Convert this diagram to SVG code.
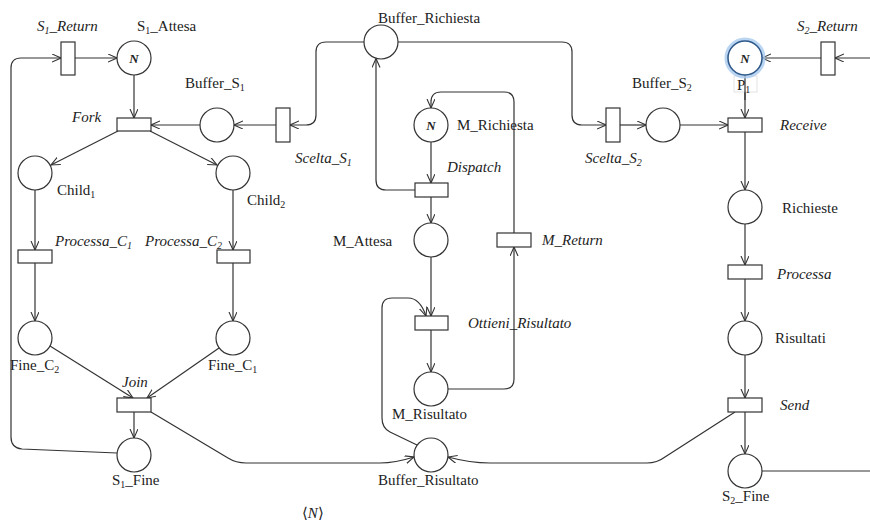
<svg xmlns="http://www.w3.org/2000/svg" width="870" height="523" viewBox="0 0 870 523">
<style>
.pl{fill:#fff;stroke:#333;stroke-width:1.2}
.tr{fill:#fff;stroke:#333;stroke-width:1.2}
.e{fill:none;stroke:#333;stroke-width:1.2;marker-end:url(#a)}
.n{fill:none;stroke:#333;stroke-width:1.2}
text{font-family:"Liberation Serif","DejaVu Serif",serif;font-size:15px;fill:#222}
.i{font-style:italic}
.tk{font-style:italic;font-weight:bold;font-size:13px;text-anchor:middle}
.s{font-size:10px}
</style>
<defs>
<marker id="a" markerWidth="10" markerHeight="10" refX="9" refY="4" orient="auto" markerUnits="userSpaceOnUse">
<path d="M0,0 L9,4 L0,8" fill="none" stroke="#333" stroke-width="1.1"/>
</marker>
</defs>
<rect width="870" height="523" fill="#fff"/>
<g id="connectors">
<path class="e" d="M75,58 L117,58"/>
<path class="e" d="M134,75 L134,118"/>
<path class="e" d="M200,125 L151,125"/>
<path class="e" d="M276,125 L234,125"/>
<path class="e" d="M364,42 L326,42 Q316,42 316,52 L316,115 Q316,125 306,125 L290,125"/>
<path class="e" d="M398,42 L562,42 Q572,42 572,52 L572,115 Q572,125 582,125 L606,125"/>
<path class="e" d="M620,125 L646,125"/>
<path class="e" d="M680,125 L728,125"/>
<path class="e" d="M745,75 L745,118"/>
<path class="e" d="M821,58 L762,58"/>
<path class="e" d="M870,58 L835,58"/>
<path class="e" d="M745,132 L745,190"/>
<path class="e" d="M745,224 L745,265"/>
<path class="e" d="M745,279 L745,321"/>
<path class="e" d="M745,355 L745,398"/>
<path class="e" d="M745,412 L745,454"/>
<path class="n" d="M762,471 L870,471"/>
<path class="e" d="M735,412 L665,457 Q657,463 647,463 L490,463 Q470,463 448,457"/>
<path class="e" d="M151,412 L228,458 Q236,463 246,463 L380,463 Q395,463 414,457"/>
<path class="e" d="M50,346 L133,398"/>
<path class="e" d="M219,348 L147,398"/>
<path class="e" d="M134,412 L134,438"/>
<path class="e" d="M117,453 L22,449 Q11,448 11,437 L11,68 Q11,58 21,58 L61,58"/>
<path class="e" d="M118,131 L51,165"/>
<path class="e" d="M150,131 L217,165"/>
<path class="e" d="M35,190 L35,250"/>
<path class="e" d="M233,190 L233,250"/>
<path class="e" d="M35,263 L35,321"/>
<path class="e" d="M233,263 L233,321"/>
<path class="e" d="M431,142 L431,183"/>
<path class="e" d="M415,190 L386,190 Q376,190 376,180 L376,58.5"/>
<path class="e" d="M431,197 L431,223"/>
<path class="e" d="M431,257 L431,316"/>
<path class="e" d="M431,330 L431,372"/>
<path class="e" d="M448,389 L504,389 Q514,389 514,379 L514,247"/>
<path class="e" d="M514,233 L514,102 Q514,92 504,92 L441,92 Q431,92 431,102 L431,108"/>
<path class="e" d="M417,445 L390,432 Q382,428 382,418 L382,308 Q382,298 392,298 L408,298 Q420,298 426,316"/>
</g>
<g id="S1_Return"><rect class="tr" x="61" y="42" width="14" height="33"/><text x="37" y="31" class="i">S<tspan class="s" dy="3">1</tspan><tspan dy="-3">_Return</tspan></text></g>
<g id="S1_Attesa"><circle class="pl" cx="134" cy="58" r="17"/><text class="tk" x="134" y="63">N</text><text x="137" y="31">S<tspan class="s" dy="3">1</tspan><tspan dy="-3">_Attesa</tspan></text></g>
<g id="Fork"><rect class="tr" x="117" y="118" width="34" height="13"/><text x="72" y="122" class="i">Fork</text></g>
<g id="Buffer_S1"><circle class="pl" cx="217" cy="125" r="17"/><text x="185" y="88">Buffer_S<tspan class="s" dy="3">1</tspan></text></g>
<g id="Scelta_S1"><rect class="tr" x="276" y="108" width="14" height="34"/><text x="295" y="163" class="i">Scelta_S<tspan class="s" dy="3">1</tspan></text></g>
<g id="Buffer_Richiesta"><circle class="pl" cx="381" cy="42" r="17"/><text x="378" y="23">Buffer_Richiesta</text></g>
<g id="M_Richiesta"><circle class="pl" cx="431" cy="125" r="17"/><text class="tk" x="431" y="130">N</text><text x="457" y="130">M_Richiesta</text></g>
<g id="Dispatch"><rect class="tr" x="415" y="183" width="33" height="14"/><text x="447" y="172" class="i">Dispatch</text></g>
<g id="Buffer_S2"><circle class="pl" cx="663" cy="125" r="17"/><text x="632" y="88">Buffer_S<tspan class="s" dy="3">2</tspan></text></g>
<g id="Scelta_S2"><rect class="tr" x="606" y="108" width="14" height="34"/><text x="585" y="163" class="i">Scelta_S<tspan class="s" dy="3">2</tspan></text></g>
<g id="P1"><rect x="734" y="76" width="23" height="16" fill="#fff" stroke="#ddd" stroke-width="0.8"/><text x="737" y="90">P<tspan class="s" dy="3">1</tspan></text><path class="n" d="M745,75 L745,100"/><circle cx="745" cy="58" r="18.5" fill="none" stroke="#a9cbee" stroke-width="4" opacity="0.8"/><circle class="pl" cx="745" cy="58" r="17" style="stroke:#2d5788;stroke-width:1.5"/><text class="tk" x="745" y="63">N</text></g>
<g id="S2_Return"><rect class="tr" x="821" y="42" width="14" height="33"/><text x="797" y="31" class="i">S<tspan class="s" dy="3">2</tspan><tspan dy="-3">_Return</tspan></text></g>
<g id="Receive"><rect class="tr" x="728" y="118" width="34" height="14"/><text x="780" y="130" class="i">Receive</text></g>
<g id="Child1"><circle class="pl" cx="35" cy="173" r="17"/><text x="57" y="195">Child<tspan class="s" dy="3">1</tspan></text></g>
<g id="Child2"><circle class="pl" cx="233" cy="173" r="17"/><text x="247" y="205">Child<tspan class="s" dy="3">2</tspan></text></g>
<g id="Processa_C1"><rect class="tr" x="18" y="250" width="34" height="13"/><text x="55" y="246" class="i">Processa_C<tspan class="s" dy="3">1</tspan></text></g>
<g id="Processa_C2"><rect class="tr" x="217" y="250" width="33" height="13"/><text x="145" y="246" class="i">Processa_C<tspan class="s" dy="3">2</tspan></text></g>
<g id="M_Attesa"><circle class="pl" cx="431" cy="240" r="17"/><text x="333" y="246">M_Attesa</text></g>
<g id="M_Return"><rect class="tr" x="497" y="233" width="34" height="14"/><text x="542" y="245" class="i">M_Return</text></g>
<g id="Richieste"><circle class="pl" cx="745" cy="207" r="17"/><text x="782" y="213">Richieste</text></g>
<g id="Processa"><rect class="tr" x="728" y="265" width="34" height="14"/><text x="777" y="279" class="i">Processa</text></g>
<g id="Ottieni_Risultato"><rect class="tr" x="415" y="316" width="33" height="14"/><text x="468" y="328" class="i">Ottieni_Risultato</text></g>
<g id="Risultati"><circle class="pl" cx="745" cy="338" r="17"/><text x="775" y="343">Risultati</text></g>
<g id="Fine_C2"><circle class="pl" cx="35" cy="338" r="17"/><text x="10" y="370">Fine_C<tspan class="s" dy="3">2</tspan></text></g>
<g id="Fine_C1"><circle class="pl" cx="233" cy="338" r="17"/><text x="208" y="370">Fine_C<tspan class="s" dy="3">1</tspan></text></g>
<g id="Join"><rect class="tr" x="117" y="398" width="34" height="14"/><text x="122" y="387" class="i">Join</text></g>
<g id="Send"><rect class="tr" x="728" y="398" width="34" height="14"/><text x="780" y="410" class="i">Send</text></g>
<g id="M_Risultato"><circle class="pl" cx="431" cy="389" r="17"/><text x="392" y="419">M_Risultato</text></g>
<g id="S1_Fine"><circle class="pl" cx="134" cy="455" r="17"/><text x="112" y="485">S<tspan class="s" dy="3">1</tspan><tspan dy="-3">_Fine</tspan></text></g>
<g id="Buffer_Risultato"><circle class="pl" cx="431" cy="455" r="17"/><text x="378" y="485">Buffer_Risultato</text></g>
<g id="S2_Fine"><circle class="pl" cx="745" cy="471" r="17"/><text x="722" y="501">S<tspan class="s" dy="3">2</tspan><tspan dy="-3">_Fine</tspan></text></g>
<text x="302" y="518">⟨<tspan class="i">N</tspan>⟩</text>
</svg>
